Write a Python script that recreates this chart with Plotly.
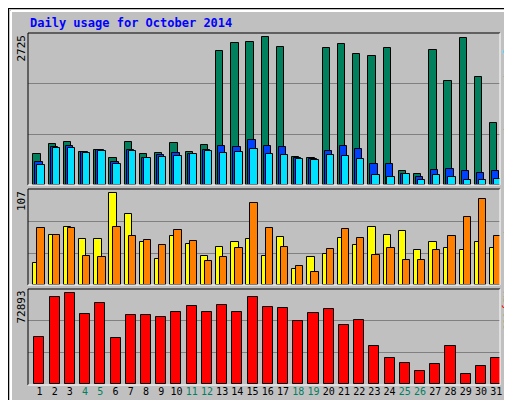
import plotly.graph_objects as go

days = list(range(1, 32))
weekend = [4, 5, 11, 12, 18, 19, 25, 26]

hits = [577, 761, 798, 613, 650, 503, 798, 577, 595, 779, 613, 742, 2472, 2620, 2638, 2725,
        2546, 521, 503, 2528, 2601, 2417, 2380, 2528, 264, 209, 2491, 1920, 2712, 1994, 1147]
files = [429, 706, 724, 613, 650, 429, 650, 503, 558, 595, 577, 650, 724, 706, 834, 724,
         706, 503, 485, 632, 724, 669, 393, 393, 209, 153, 282, 301, 264, 227, 264]
pages = [374, 687, 687, 595, 632, 393, 632, 503, 521, 540, 577, 632, 595, 613, 669, 577,
         558, 485, 466, 558, 540, 485, 190, 153, 209, 98, 190, 153, 98, 98, 117]
visits = [26, 58, 68, 54, 54, 107, 83, 50, 30, 57, 48, 34, 44, 50, 54, 34,
          56, 19, 32, 36, 55, 46, 68, 58, 63, 41, 50, 43, 41, 50, 43]
sites = [66, 58, 66, 34, 33, 68, 57, 52, 46, 64, 51, 28, 33, 43, 95, 66,
         44, 22, 15, 42, 65, 55, 35, 43, 29, 29, 41, 57, 79, 100, 57]
kbytes = [37800, 69700, 72893, 56100, 64900, 37000, 55300, 55300, 53700, 57700, 62500,
          57700, 63300, 57700, 69700, 61700, 60900, 50600, 56900, 60100, 47300, 51300,
          30600, 21000, 17000, 10600, 16200, 30600, 8200, 14600, 21000]

W, H = 512, 400
mono = "DejaVu Sans Mono"
line = dict(color="black", width=1)

fig = go.Figure()
# top panel: hits / files / pages
fig.add_trace(go.Bar(x=days, y=hits, offset=-0.4, width=0.48, marker=dict(color="#00805C", line=line), xaxis="x", yaxis="y"))
fig.add_trace(go.Bar(x=days, y=files, offset=-0.27, width=0.48, marker=dict(color="#0040FF", line=line), xaxis="x", yaxis="y"))
fig.add_trace(go.Bar(x=days, y=pages, offset=-0.14, width=0.48, marker=dict(color="#00E0FF", line=line), xaxis="x", yaxis="y"))
# middle: visits / sites
fig.add_trace(go.Bar(x=days, y=visits, offset=-0.4, width=0.48, marker=dict(color="#FFFF00", line=line), xaxis="x2", yaxis="y2"))
fig.add_trace(go.Bar(x=days, y=sites, offset=-0.14, width=0.48, marker=dict(color="#FF8000", line=line), xaxis="x2", yaxis="y2"))
# bottom: kbytes
fig.add_trace(go.Bar(x=days, y=kbytes, offset=-0.33, width=0.66, marker=dict(color="#FF0000", line=line), xaxis="x3", yaxis="y3"))

dom_x = [20 / W, 492 / W]
doms = [(25, 177), (181, 277), (281, 376)]
maxes = [max(hits) * 152 / 148, max(visits) * 289 / 277, max(kbytes) * 285 / 274]

def ydom(a, b):
    return [1 - b / H, 1 - a / H]

ticktext = [f"<span style='color:#008060'>{d}</span>" if d in weekend else str(d) for d in days]
xcommon = dict(range=[0.25, 31.25], domain=dom_x, showgrid=False, zeroline=False,
               fixedrange=True, automargin=False)
fig.update_layout(
    xaxis=dict(**xcommon, anchor="y", showticklabels=False),
    xaxis2=dict(**xcommon, anchor="y2", showticklabels=False),
    xaxis3=dict(**xcommon, anchor="y3", tickvals=days, ticktext=ticktext, ticks="", tickangle=0,
                tickfont=dict(family=mono, size=10, color="black")),
)
for i, (d, m) in enumerate(zip(doms, maxes)):
    key = "yaxis" if i == 0 else f"yaxis{i + 1}"
    fig.layout[key] = dict(domain=ydom(*d), range=[0, m], dtick=m / 3, showticklabels=False,
                           gridcolor="#808080", gridwidth=1, zeroline=False, automargin=False,
                           anchor="x" if i == 0 else f"x{i + 1}")

P = dict(type="line", xref="paper", yref="paper")
shapes = [
    dict(type="rect", xref="paper", yref="paper", x0=0, y0=0, x1=1, y1=1, line=dict(color="black", width=2)),
    dict(**P, x0=3 / W, x1=3 / W, y0=3 / H, y1=1 - 3 / H, line=dict(color="white", width=2)),
    dict(**P, x0=3 / W, x1=1 - 3 / W, y0=1 - 3 / H, y1=1 - 3 / H, line=dict(color="white", width=2)),
    dict(**P, x0=1 - 4 / W, x1=1 - 4 / W, y0=4 / H, y1=1 - 4 / H, line=dict(color="#808080", width=3)),
    dict(**P, x0=4 / W, x1=1 - 4 / W, y0=4 / H, y1=4 / H, line=dict(color="#808080", width=3)),
]
for a, b in [(25, 177), (181, 277), (281, 377)]:
    y0, y1 = 1 - b / H, 1 - a / H
    shapes += [
        dict(**P, x0=dom_x[0], x1=dom_x[0], y0=y0, y1=y1, line=dict(color="black", width=1)),
        dict(**P, x0=dom_x[0], x1=dom_x[1], y0=y1, y1=y1, line=dict(color="black", width=1)),
        dict(**P, x0=dom_x[1], x1=dom_x[1], y0=y0, y1=y1, line=dict(color="white", width=1)),
        dict(**P, x0=dom_x[0], x1=dom_x[1], y0=y0, y1=y0, line=dict(color="white", width=1)),
    ]

A = dict(xref="paper", yref="paper", showarrow=False)
annots = [
    dict(**A, text="<b>Daily usage for October 2014</b>", x=20 / W, y=1 - 15 / H, xanchor="left", yanchor="middle",
         font=dict(family=mono, size=12, color="#0000FF")),
]
for (a, b), txt in zip(doms, [str(max(hits)), str(max(visits)), str(max(kbytes))]):
    annots.append(dict(**A, text=txt, textangle=-90, x=13 / W, y=1 - a / H, xanchor="center", yanchor="top",
                       font=dict(family=mono, size=11, color="black")))
side = [
    "<span style='color:#00E0FF'>Pages</span> / <span style='color:#0040FF'>Files</span> / <span style='color:#00805C'>Hits</span>",
    "<span style='color:#FF8000'>Sites</span> / <span style='color:#FFFF00'>Visits</span>",
    "<span style='color:#FF0000'>KBytes</span>",
]
for (a, b), txt in zip(doms, side):
    annots.append(dict(**A, text=txt, textangle=90, x=500 / W, y=1 - a / H, xanchor="center", yanchor="top",
                       font=dict(family=mono, size=11, color="black")))

fig.update_layout(
    width=W, height=H, margin=dict(l=0, r=0, t=0, b=0, autoexpand=False),
    paper_bgcolor="#C0C0C0", plot_bgcolor="#C0C0C0",
    barmode="overlay", bargap=0, showlegend=False,
    shapes=shapes, annotations=annots,
)
fig.write_html("out.html")
